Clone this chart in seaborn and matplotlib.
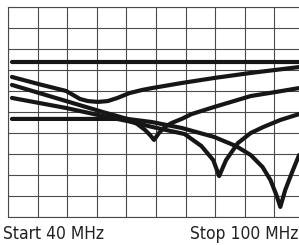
import numpy as np
import pandas as pd
import matplotlib
matplotlib.use("Agg")
import matplotlib.pyplot as plt
import seaborn as sns
from matplotlib import font_manager

# readings off the analyzer screen: frequency in MHz, level in dB (10 dB/div, top = 0 dB)
ref_freq = [40.8, 100.0]
ref_db = [-26.2, -26.2]

bath_freq = [40.8, 46.2, 51.8, 53.2, 54.6, 56.2, 58.2, 60.2, 62.2, 64.6, 67.2, 69.2, 75.2, 81.8, 89.2, 99.0]
bath_db = [-33.3, -36.7, -40.0, -41.9, -43.8, -44.8, -45.2, -44.8, -43.3, -41.0, -39.5, -38.6, -36.2, -33.8, -31.4, -28.6]

notch1_freq = [40.8, 51.8, 59.2, 64.2, 66.2, 67.8, 68.8, 69.6, 70.6, 71.8, 73.2, 75.2, 77.2, 81.8, 89.2, 94.2, 99.0]
notch1_db = [-37.1, -44.8, -50.0, -53.3, -55.7, -58.6, -61.0, -63.3, -60.0, -57.1, -55.2, -53.3, -51.0, -47.6, -42.4, -40.5, -38.6]

notch2_freq = [40.8, 51.8, 59.2, 64.2, 69.2, 75.8, 79.2, 81.6, 82.8, 84.2, 86.6, 89.2, 91.8, 95.2, 99.0]
notch2_db = [-43.3, -48.1, -51.9, -54.3, -57.1, -60.5, -66.2, -72.9, -80.5, -72.9, -64.8, -60.0, -57.1, -53.8, -51.0]

notch3_freq = [40.8, 64.2, 69.2, 75.2, 81.8, 86.2, 89.2, 91.6, 93.2, 94.4, 95.2, 96.2, 97.6, 99.0]
notch3_db = [-53.3, -53.3, -54.8, -57.6, -61.9, -66.2, -70.5, -76.2, -82.4, -89.5, -95.2, -87.1, -78.6, -70.5]

traces = {
    "ref": (ref_freq, ref_db),
    "bath": (bath_freq, bath_db),
    "notch1": (notch1_freq, notch1_db),
    "notch2": (notch2_freq, notch2_db),
    "notch3": (notch3_freq, notch3_db),
}
df = pd.concat(
    [pd.DataFrame({"freq": f, "db": d, "trace": name}) for name, (f, d) in traces.items()],
    ignore_index=True,
)

sns.set_style("white")
fig = plt.figure(figsize=(2.99, 2.45), dpi=100)
ax = fig.add_axes([8 / 299, 1 - 217 / 245, 296 / 299, 210 / 245])

sns.lineplot(data=df, x="freq", y="db", hue="trace", units="trace", estimator=None, sort=False,
             palette=["#161616"] * len(traces), linewidth=3.0, legend=False, ax=ax,
             solid_capstyle="round", solid_joinstyle="round", zorder=3)

ax.set_xlim(40.8, 100)
ax.set_ylim(-100, 0)
ax.set_xticks(np.arange(40, 101, 6))
ax.set_yticks(np.arange(-100, 1, 10))
ax.grid(True, color="#4a4a4a", linewidth=0.8)
ax.tick_params(length=0, labelbottom=False, labelleft=False)
ax.set_xlabel("")
ax.set_ylabel("")
for side in ["left", "top", "bottom"]:
    ax.spines[side].set_color("#4a4a4a")
    ax.spines[side].set_linewidth(0.8)
ax.spines["right"].set_visible(False)

names = {f.name for f in font_manager.fontManager.ttflist}
label_font = "Liberation Sans Narrow" if "Liberation Sans Narrow" in names else "DejaVu Sans"
fig.text(3 / 299, 1 - 234 / 245, "Start 40 MHz", ha="left", va="center", fontsize=12.5,
         family=label_font, stretch="condensed", color="#222222")
fig.text(298 / 299, 1 - 234 / 245, "Stop 100 MHz", ha="right", va="center", fontsize=12.5,
         family=label_font, stretch="condensed", color="#222222")

fig.savefig("out.png", dpi=100)
